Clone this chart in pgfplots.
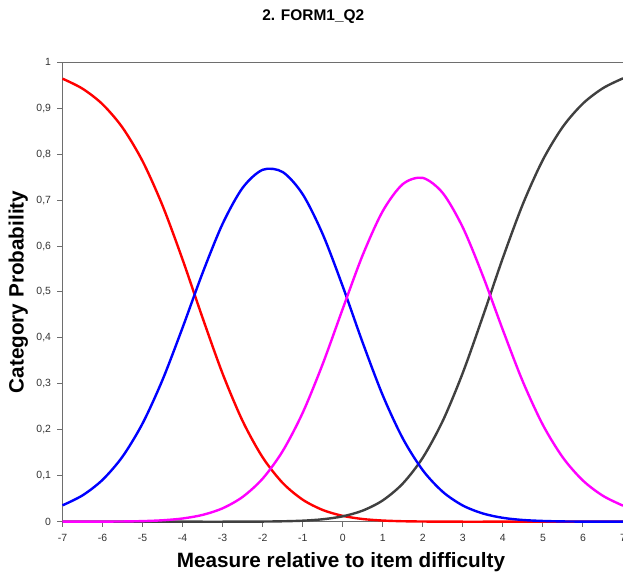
\documentclass[border=0pt]{standalone}
\usepackage{fontspec}
\setmainfont{Liberation Sans}
\usepackage{pgfplots}
\usepackage{pgfplotstable}
\pgfplotsset{compat=1.18}

\definecolor{axgray}{RGB}{110,110,110}
\definecolor{txtgray}{RGB}{50,50,50}
\definecolor{cat0}{RGB}{255,0,0}
\definecolor{cat1}{RGB}{0,0,255}
\definecolor{cat2}{RGB}{255,0,255}
\definecolor{cat3}{RGB}{64,64,64}

% category probabilities, categories 0..3
\pgfplotstableread{
x     p0      p1      p2      p3
-7.0  0.9644  0.0356  0.0000  0.0000
-6.5  0.9426  0.0573  0.0001  0.0000
-6.0  0.9087  0.0911  0.0002  0.0000
-5.5  0.8577  0.1418  0.0005  0.0000
-5.0  0.7848  0.2139  0.0013  0.0000
-4.5  0.6878  0.3091  0.0031  0.0000
-4.0  0.5704  0.4226  0.0070  0.0000
-3.5  0.4435  0.5417  0.0148  0.0000
-3.0  0.3221  0.6486  0.0292  0.0000
-2.5  0.2190  0.7269  0.0540  0.0001
-2.0  0.1399  0.7660  0.0938  0.0003
-1.5  0.0843  0.7611  0.1537  0.0009
-1.0  0.0479  0.7127  0.2372  0.0022
-0.5  0.0255  0.6258  0.3434  0.0053
 0.0  0.0127  0.5122  0.4635  0.0117
 0.5  0.0058  0.3893  0.5807  0.0242
 1.0  0.0025  0.2749  0.6762  0.0464
 1.5  0.0010  0.1812  0.7348  0.0831
 2.0  0.0004  0.1119  0.7483  0.1395
 2.5  0.0001  0.0649  0.7152  0.2198
 3.0  0.0000  0.0352  0.6403  0.3244
 3.5  0.0000  0.0179  0.5351  0.4470
 4.0  0.0000  0.0084  0.4171  0.5744
 4.5  0.0000  0.0037  0.3046  0.6916
 5.0  0.0000  0.0016  0.2105  0.7879
 5.5  0.0000  0.0006  0.1394  0.8600
 6.0  0.0000  0.0002  0.0895  0.9103
 6.5  0.0000  0.0001  0.0563  0.9437
 7.0  0.0000  0.0000  0.0349  0.9651
}\probs

\begin{document}
\begin{tikzpicture}
\path[use as bounding box, clip] (0,0) rectangle (623bp,573bp);
\begin{axis}[
    at={(62.5bp,51.3bp)}, anchor=south west,
    scale only axis,
    width=560.5bp, height=459.4bp,
    xmin=-7, xmax=7, ymin=0, ymax=1,
    xtick={-7,-6,-5,-4,-3,-2,-1,0,1,2,3,4,5,6,7},
    ytick={0,0.1,0.2,0.3,0.4,0.5,0.6,0.7,0.8,0.9,1},
    /pgf/number format/assume math mode=true,
    tick label style={font=\fontsize{10.5}{12}\selectfont, text=txtgray},
    xticklabel style={yshift=-4bp},
    yticklabel style={xshift=-3bp, /pgf/number format/.cd, use comma, fixed, precision=1},
    tick pos=left, tick align=outside,
    major tick length=5bp,
    tick style={axgray, line width=1bp},
    axis line style={draw=none},
    clip=false,
    title={2. FORM1\_Q2},
    title style={at={(axis description cs:0.4475,1.0775)}, anchor=base,
        font=\bfseries\fontsize{15.5}{18}\selectfont},
    xlabel={Measure relative to item difficulty},
    xlabel style={at={(axis description cs:0.4969,-0.1005)}, anchor=base,
        font=\bfseries\fontsize{20.8}{24}\selectfont},
    ylabel={Category Probability},
    ylabel style={at={(axis description cs:-0.079,0.5)}, anchor=center,
        font=\bfseries\fontsize{20.8}{24}\selectfont},
]
\draw[axgray, line width=1.5bp] (rel axis cs:0,1) -- (rel axis cs:0,0) -- (rel axis cs:1,0);
\draw[axgray, line width=1.5bp] (rel axis cs:0,1) -- (rel axis cs:1,1);

\addplot[cat0, line width=2.4bp, smooth] table[x=x, y=p0] {\probs};
\addplot[cat3, line width=2.4bp, smooth] table[x=x, y=p3] {\probs};
\addplot[cat1, line width=2.4bp, smooth] table[x=x, y=p1] {\probs};
\addplot[cat2, line width=2.4bp, smooth] table[x=x, y=p2] {\probs};
\end{axis}
\end{tikzpicture}
\end{document}
